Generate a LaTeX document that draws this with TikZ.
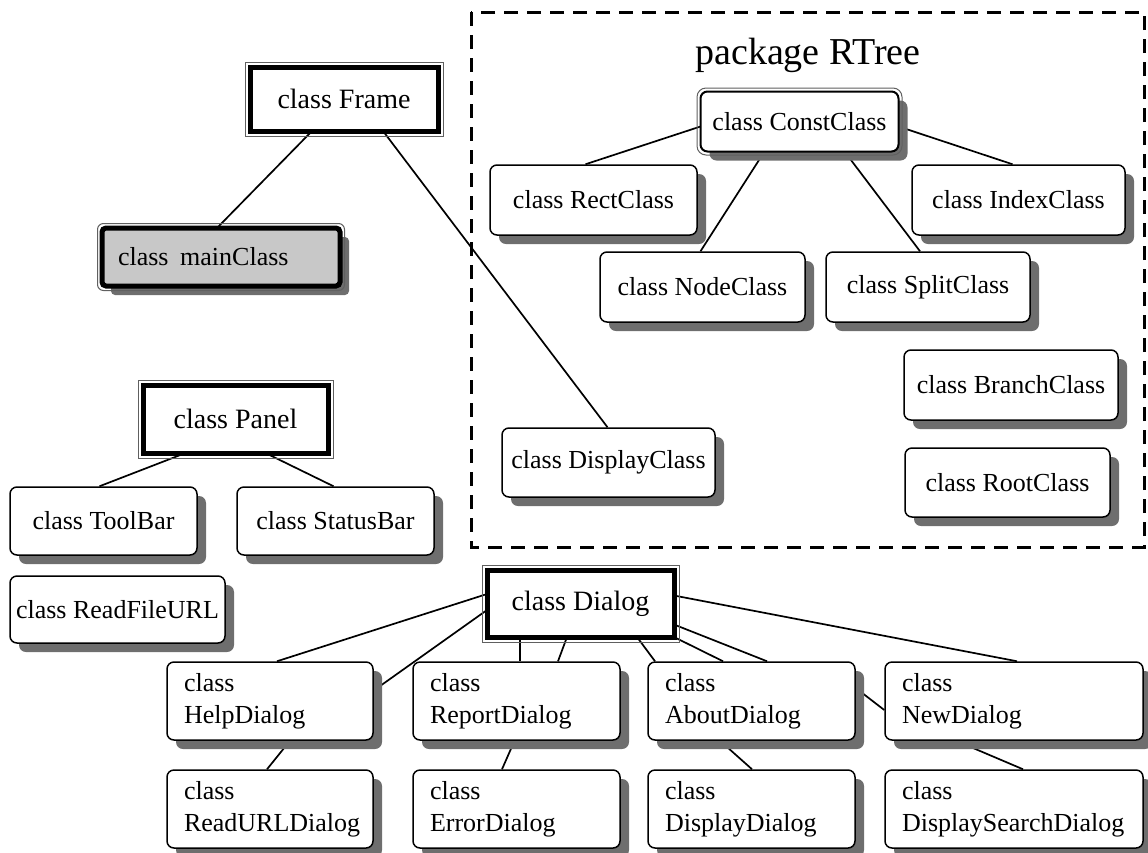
\documentclass[tikz,border=0pt]{standalone}
\usepackage{fontspec}
\setmainfont{Liberation Serif}
\usetikzlibrary{shadows,calc}
\hyphenpenalty=10000
\exhyphenpenalty=10000
\definecolor{shadowgray}{HTML}{6E6E6E}
\definecolor{mainfill}{HTML}{C8C8C8}
\definecolor{rimgray}{HTML}{606060}
\pgfdeclarelayer{bg}
\pgfsetlayers{bg,main}
\tikzset{
  shd/.style={drop shadow={shadow xshift=9pt, shadow yshift=-9pt, fill=shadowgray, opacity=1}},
  cbox/.style={shd, draw=black, line width=1.5pt, rounded corners=7pt, fill=white,
    inner sep=0pt, minimum height=70pt, font=\fontsize{26}{32}\selectfont},
  tbox/.style={cbox, align=left, minimum height=78pt},
  heavy/.style={draw=black, line width=5pt, fill=white, inner sep=0pt, outer sep=0pt,
    font=\fontsize{28}{32}\selectfont},
  rim/.style={draw=rimgray, line width=1pt},
  conn/.style={line width=1.7pt},
  pkgframe/.style={draw=black, line width=3pt, dash pattern=on 14pt off 9pt},
  title/.style={font=\fontsize{38}{42}\selectfont, inner sep=0pt},
}
\begin{document}
\begin{tikzpicture}[x=1pt, y=-1pt]
\useasboundingbox (0,0) rectangle (1148,852);

% package frame
\draw[pkgframe] (471,12) rectangle (1144,547);
\node[title] (pkgtitle) at (808,55) {package RTree};

% heavy boxes
\node[heavy, minimum width=188pt, minimum height=64pt] (frame) at (344,99) {class Frame};
\draw[rim] ($(frame.south west)+(-5,5)$) rectangle ($(frame.north east)+(5,-5)$);

\node[heavy, shd, fill=mainfill, rounded corners=4pt, minimum width=238pt, minimum height=58pt,
  align=left, text width=206pt, font=\fontsize{26}{30}\selectfont] (main) at (221,257) {class\hspace{0.45em}mainClass};
\draw[rim, rounded corners=6pt] ($(main.south west)+(-4.5,4.5)$) rectangle ($(main.north east)+(4.5,-4.5)$);

\node[heavy, minimum width=185pt, minimum height=68pt] (panel) at (235.5,419) {class Panel};
\draw[rim] ($(panel.south west)+(-5,5)$) rectangle ($(panel.north east)+(5,-5)$);

\node[heavy, minimum width=187pt, minimum height=67pt] (dialog) at (580.5,603.5) {class Dialog};
\draw[rim] ($(dialog.south west)+(-5,5)$) rectangle ($(dialog.north east)+(5,-5)$);

% RTree package classes
\node[cbox, line width=2pt, minimum width=198pt, minimum height=60pt, outer sep=0pt] (const) at (799.5,121.5) {class ConstClass};
\draw[rim, rounded corners=9pt] ($(const.south west)+(-3.5,3.5)$) rectangle ($(const.north east)+(3.5,-3.5)$);
\node[cbox, minimum width=207pt] (rect) at (593.5,200) {class RectClass};
\node[cbox, minimum width=213pt] (index) at (1018.5,200) {class IndexClass};
\node[cbox, minimum width=205pt] (nodec) at (702.5,287) {class NodeClass};
\node[cbox, minimum width=204pt] (split) at (928,287) {class SplitClass};
\node[cbox, minimum width=214pt] (branch) at (1011,385) {class BranchClass};
\node[cbox, minimum width=205pt, minimum height=69pt] (root) at (1007.5,482.5) {class RootClass};
\node[cbox, minimum width=213pt, minimum height=69pt] (display) at (608.5,462.5) {class DisplayClass};

% panel children
\node[cbox, minimum width=187pt, minimum height=68pt] (toolbar) at (103.5,521) {class ToolBar};
\node[cbox, minimum width=197pt, minimum height=68pt] (status) at (335.5,521) {class StatusBar};
\node[cbox, minimum width=215pt, minimum height=67pt] (readfile) at (117.5,609.5) {class ReadFileURL};

% dialogs
\node[tbox, minimum width=206pt, text width=172pt] (help) at (270,701) {class\\HelpDialog};
\node[tbox, minimum width=207pt, text width=173pt] (report) at (516.5,701) {class\\ReportDialog};
\node[tbox, minimum width=207pt, text width=173pt] (about) at (751.5,701) {class\\AboutDialog};
\node[tbox, minimum width=258pt, text width=224pt] (new) at (1014,701) {class\\NewDialog};
\node[tbox, minimum width=206pt, text width=172pt] (readurl) at (270,809) {class\\ReadURLDialog};
\node[tbox, minimum width=207pt, text width=173pt] (error) at (516.5,809) {class\\ErrorDialog};
\node[tbox, minimum width=207pt, text width=173pt] (dispdlg) at (751.5,809) {class\\DisplayDialog};
\node[tbox, minimum width=258pt, text width=224pt] (dsearch) at (1014,809) {class\\DisplaySearchDialog};

% connectors
\begin{pgfonlayer}{bg}
\draw[conn] ([xshift=-32pt]frame.south) -- ([xshift=-4pt]main.north);
\draw[conn] ([xshift=39pt]frame.south) -- ([xshift=-1pt]display.north);
\draw[conn] ([yshift=-5pt]const.west) -- ([xshift=-8pt]rect.north);
\draw[conn] ([yshift=-5pt]const.east) -- ([xshift=-6pt]index.north);
\draw[conn] ([xshift=-35pt]const.south) -- ([xshift=-2pt]nodec.north);
\draw[conn] ([xshift=45pt]const.south) -- ([xshift=-8pt]split.north);
\draw[conn] ([xshift=-50pt]panel.south) -- ([xshift=-4pt]toolbar.north);
\draw[conn] ([xshift=30pt]panel.south) -- ([xshift=-2pt]status.north);
\draw[conn] ([yshift=9.5pt]dialog.west) -- ([xshift=7pt]help.north);
\draw[conn] ([yshift=-6.5pt]dialog.west) -- ([yshift=10.5pt]help.east);
\draw[conn] ([xshift=-60.5pt]dialog.south) -- ([xshift=3.5pt]report.north);
\draw[conn] ([xshift=-13.5pt]dialog.south) -- ([xshift=41.5pt]report.north);
\draw[conn] ([xshift=56.5pt]dialog.south) -- ([xshift=-96.5pt]about.north);
\draw[conn] (dialog.south east) -- ([xshift=-28.5pt]about.north);
\draw[conn] ([yshift=-21pt]dialog.east) -- ([xshift=15.5pt]about.north);
\draw[conn] ([yshift=8pt]dialog.east) -- ([xshift=3pt]new.north);
\draw[conn] ([yshift=13pt]about.east) -- ([yshift=-9pt]new.west);
\draw[conn] ([xshift=20pt]help.south) -- ([xshift=-3pt]readurl.north);
\draw[conn] ([xshift=-2pt]report.south) -- ([xshift=-14.5pt]error.north);
\draw[conn] ([xshift=-31.5pt]about.south) -- ([xshift=0.5pt]dispdlg.north);
\draw[conn] ([xshift=-58pt]new.south) -- ([xshift=9pt]dsearch.north);
\end{pgfonlayer}
\end{tikzpicture}
\end{document}
